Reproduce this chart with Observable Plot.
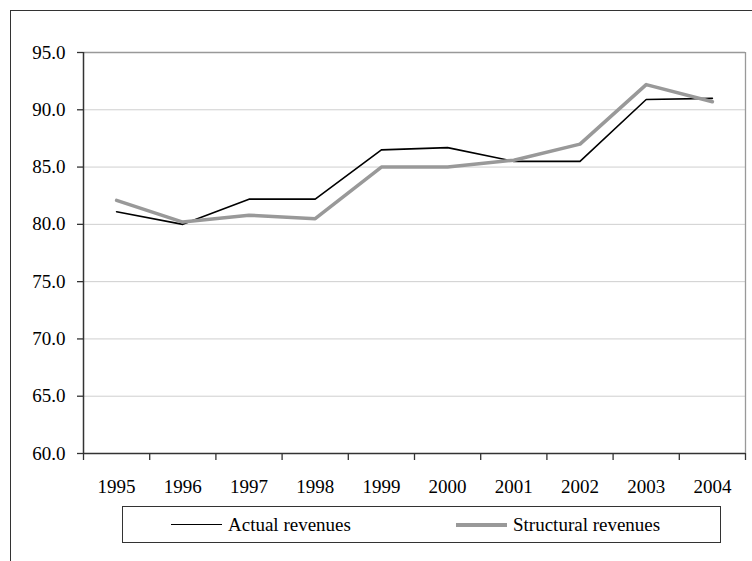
<!DOCTYPE html>
<html>
<head>
<meta charset="utf-8">
<script src="https://cdn.jsdelivr.net/npm/d3@7"></script>
<script src="https://cdn.jsdelivr.net/npm/@observablehq/plot@0.6"></script>
<style>
  html, body { margin: 0; padding: 0; background: #fff; overflow: hidden; }
  body { width: 752px; height: 561px; position: relative; font-family: "Liberation Serif", Tinos, "Times New Roman", Times, "DejaVu Serif", serif; }
  #frame { position: absolute; left: 10px; top: 10px; width: 900px; height: 700px; border: 1.5px solid #333; box-sizing: border-box; }
  #chart { position: absolute; left: 0; top: 0; }
  #chart svg, #chart svg text { font-family: "Liberation Serif", Tinos, "Times New Roman", Times, "DejaVu Serif", serif !important; }
  #legend { position: absolute; left: 122px; top: 506px; width: 599px; height: 37px; border: 1px solid #333; box-sizing: border-box; font-size: 19px; }
  .item { position: absolute; top: 0; height: 35px; display: flex; align-items: center; }
  .swatch { display: inline-block; width: 51px; margin-right: 6px; }
</style>
</head>
<body>
<div id="frame"></div>
<div id="chart"></div>
<div id="legend"></div>
<script>
const years = [1995, 1996, 1997, 1998, 1999, 2000, 2001, 2002, 2003, 2004]
const actual = [81.1, 80.0, 82.2, 82.2, 86.5, 86.7, 85.5, 85.5, 90.9, 91.0]
const structural = [82.1, 80.2, 80.8, 80.5, 85.0, 85.0, 85.6, 87.0, 92.2, 90.7]
const seriesNames = ['Actual revenues', 'Structural revenues']
const yTicks = [60, 65, 70, 75, 80, 85, 90, 95]

const colores = ['#000', '#999']
const grosores = [1.6, 3.5]

const datos = years.flatMap((y, i) => [
  {year: y, value: actual[i], serie: seriesNames[0]},
  {year: y, value: structural[i], serie: seriesNames[1]},
])

// limites entre categorias, como en el eje de Excel
const limites = [years[0] - 0.5, ...years.map(y => y + 0.5)]

let chart = Plot.plot({
  width: 752,
  height: 500,
  marginLeft: 83,
  marginRight: 7,
  marginTop: 52,
  marginBottom: 47,
  style: {fontSize: '19px', color: '#000', background: 'transparent', overflow: 'visible'},
  x: {domain: [limites[0], limites[limites.length - 1]]},
  y: {domain: [yTicks[0], yTicks[yTicks.length - 1]]},
  marks: [
    Plot.ruleY(yTicks.slice(1, -1), {stroke: '#cfcfcf', strokeWidth: 1}),
    Plot.ruleY([yTicks[yTicks.length - 1]], {stroke: '#999', strokeWidth: 1.3}),
    Plot.ruleX([limites[limites.length - 1]], {stroke: '#999', strokeWidth: 1.3}),
    Plot.line(datos.filter(d => d.serie === seriesNames[0]), {x: 'year', y: 'value', stroke: colores[0], strokeWidth: grosores[0]}),
    Plot.line(datos.filter(d => d.serie === seriesNames[1]), {x: 'year', y: 'value', stroke: colores[1], strokeWidth: grosores[1]}),
    Plot.axisY({ticks: yTicks, tickFormat: d => d.toFixed(1), tickSize: 6, tickPadding: 12, label: null, stroke: '#333', strokeWidth: 1.3}),
    Plot.ruleX([limites[0]], {stroke: '#333', strokeWidth: 1.5}),
    Plot.ruleY([yTicks[0]], {stroke: '#333', strokeWidth: 1.5}),
    Plot.axisX({ticks: limites, tickFormat: () => '', tickSize: 7, label: null, stroke: '#333', strokeWidth: 1.3}),
    Plot.axisX({ticks: years, tickFormat: d => String(d), tickSize: 0, tickPadding: 26, label: null}),
  ],
})

d3.select('#chart').append(() => chart)

// leyenda dentro de la caja
const posiciones = [48, 333]
const leyenda = d3.select('#legend')
seriesNames.forEach((nombre, i) => {
  const item = leyenda.append('div').attr('class', 'item').style('left', posiciones[i] + 'px')
  item.append('span').attr('class', 'swatch')
    .style('border-top', `${grosores[i] + (i ? 0.5 : 0)}px solid ${colores[i]}`)
  item.append('span').text(nombre)
})
</script>
</body>
</html>
